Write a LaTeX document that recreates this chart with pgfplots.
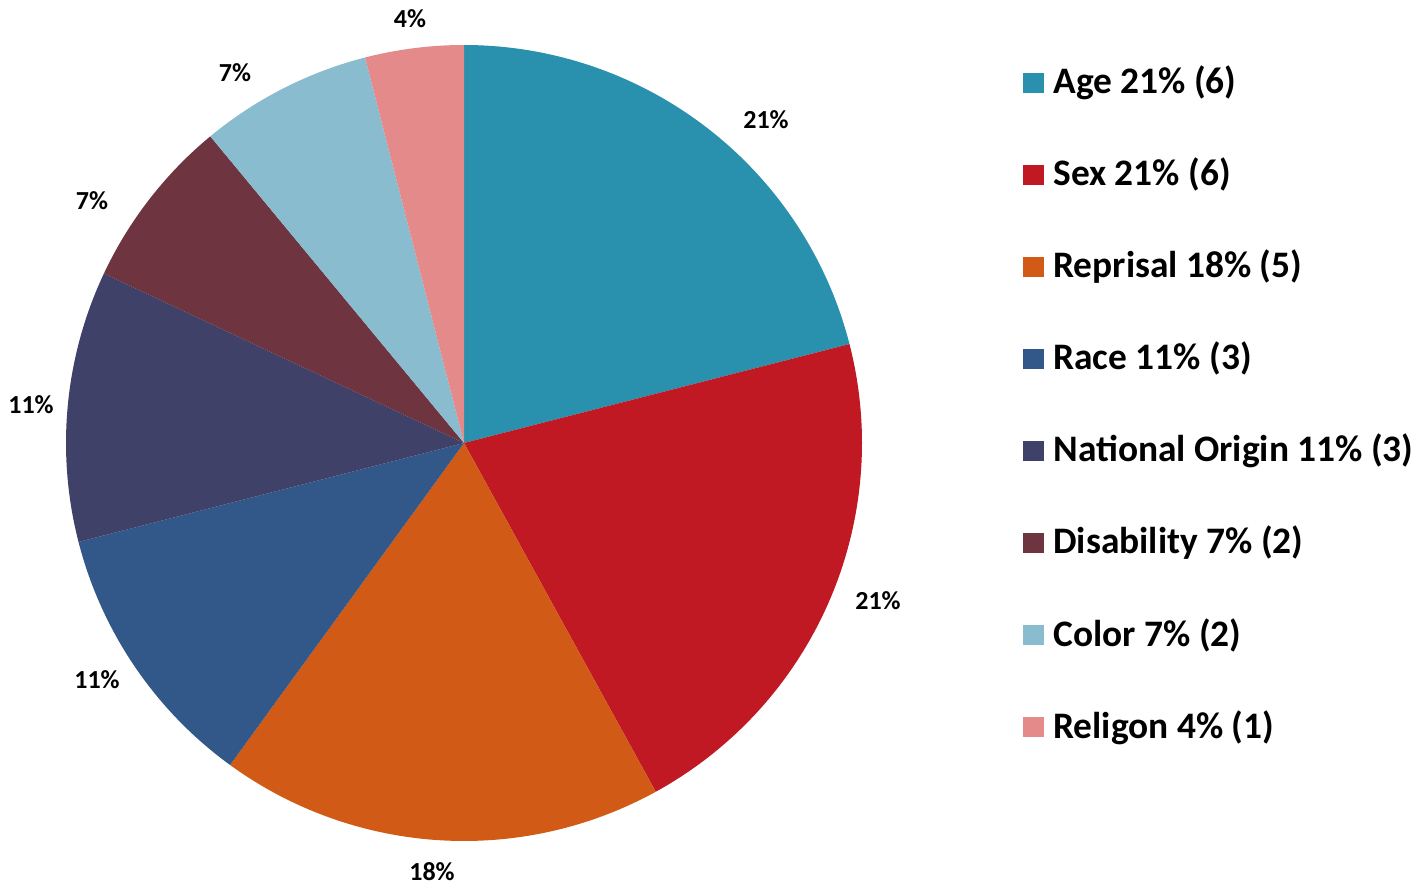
\documentclass[border=0pt]{standalone}
\usepackage{pgfplots}
\pgfplotsset{compat=1.18}
\usepackage{fontspec}
\setmainfont{Carlito}
\definecolor{cAge}{HTML}{2990AD}
\definecolor{cSex}{HTML}{C01923}
\definecolor{cRep}{HTML}{D05A16}
\definecolor{cRace}{HTML}{325889}
\definecolor{cNat}{HTML}{3F4168}
\definecolor{cDis}{HTML}{6E3440}
\definecolor{cCol}{HTML}{8ABCCF}
\definecolor{cRel}{HTML}{E58A8A}
% shares (%): Age 21, Sex 21, Reprisal 18, Race 11, National Origin 11, Disability 7, Color 7, Religon 4
% slice given by cumulative start and end share
\newcommand{\slice}[3]{%
  \fill[#1] (axis cs:464,441) -- plot[domain={90-3.6*#2}:{90-3.6*#3}, samples=80, variable=\t] ({464+398*cos(\t)},{441+398*sin(\t)}) -- cycle;%
}
\newcommand{\lab}[3]{\node[anchor=base, font=\fontsize{13}{15}\selectfont\bfseries] at (axis cs:#1,{884-#2}) {#3};}
\newcommand{\leg}[3]{%
  \fill[#1] (axis cs:1023,{884-73-92*#2}) rectangle (axis cs:1044,{884-93-92*#2});%
  \node[anchor=base west, inner sep=0pt, font=\fontsize{18.7}{21}\selectfont\bfseries] at (axis cs:1053,{884-94-92*#2}) {#3};%
}
\begin{document}
\begin{tikzpicture}
\begin{axis}[hide axis, scale only axis, width=708pt, height=442pt,
  xmin=0, xmax=1416, ymin=0, ymax=884, enlargelimits=false, clip=false]
\slice{cAge}{0}{21}
\slice{cSex}{21}{42}
\slice{cRep}{42}{60}
\slice{cRace}{60}{71}
\slice{cNat}{71}{82}
\slice{cDis}{82}{89}
\slice{cCol}{89}{96}
\slice{cRel}{96}{100}
\lab{766}{129}{21\%}
\lab{878}{609}{21\%}
\lab{432}{880}{18\%}
\lab{97}{688}{11\%}
\lab{31}{414}{11\%}
\lab{92}{210}{7\%}
\lab{235}{82}{7\%}
\lab{410}{28}{4\%}
\leg{cAge}{0}{Age 21\% (6)}
\leg{cSex}{1}{Sex 21\% (6)}
\leg{cRep}{2}{Reprisal 18\% (5)}
\leg{cRace}{3}{Race 11\% (3)}
\leg{cNat}{4}{National Origin 11\% (3)}
\leg{cDis}{5}{Disability 7\% (2)}
\leg{cCol}{6}{Color 7\% (2)}
\leg{cRel}{7}{Religon 4\% (1)}
\end{axis}
\pgfresetboundingbox
\path[use as bounding box] (current axis.south west) rectangle (current axis.north east);
\end{tikzpicture}
\end{document}
